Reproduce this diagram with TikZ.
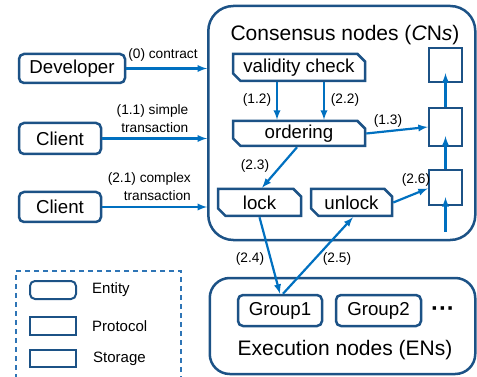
\documentclass[tikz,border=0pt]{standalone}
\usepackage{fontspec}
\setmainfont{Liberation Sans}
\usetikzlibrary{positioning,shapes.misc}
\definecolor{bordc}{RGB}{28,82,134}
\definecolor{arrc}{RGB}{0,112,192}
\definecolor{legc}{RGB}{46,117,182}
\begin{document}
\begin{tikzpicture}[x=10pt,y=-10pt,
    box/.style={draw=bordc,line width=2.5pt,inner sep=0pt,font=\fontsize{18.7}{21}\selectfont},
    entity/.style={box,rounded corners=5pt},
    protocol/.style={box,chamfered rectangle,chamfered rectangle corners={north east,south west},chamfered rectangle xsep=4pt},
    storage/.style={box},
    region/.style={draw=bordc,line width=2.5pt,inner sep=0pt},
    flow/.style={draw=arrc,line width=2.2pt,-latex},
    lab/.style={inner sep=0pt,font=\fontsize{13.7}{18}\selectfont},
    legtext/.style={inner sep=0pt,font=\fontsize{15}{18}\selectfont},
    title/.style={inner sep=0pt,font=\fontsize{21}{24}\selectfont}]
    \useasboundingbox (0,0) rectangle (47.7,37.7);
    \node[region,rounded corners=25pt,minimum width=267pt,minimum height=234pt] (cn) at (34.18,12.3) {};
    \node[region,rounded corners=20pt,minimum width=265.5pt,minimum height=96pt] (en) at (34.25,32.6) {};
    \node[title] (cntitle) at (34.5,3.5) {Consensus nodes (\textit{C}N\textit{s})};
    \node[title] (entitle) at (34.5,35.0) {Execution nodes (ENs)};
    \node[draw=legc,line width=1.3pt,dash pattern=on 5pt off 4pt,minimum width=165pt,minimum height=125pt] (legend) at (9.85,33.35) {};
    \node[entity,minimum width=106pt,minimum height=29pt] (dev) at (7.2,6.85) {Developer};
    \node[entity,minimum width=82pt,minimum height=31pt] (cl1) at (6.0,13.85) {Client};
    \node[entity,minimum width=82pt,minimum height=30pt] (cl2) at (6.0,20.7) {Client};
    \node[protocol,minimum width=132pt,minimum height=27pt] (vc) at (29.9,6.75) {validity check};
    \node[protocol,minimum width=132pt,minimum height=25pt] (ord) at (29.9,13.35) {ordering};
    \node[protocol,minimum width=83pt,minimum height=27pt] (lock) at (25.95,20.25) {lock};
    \node[protocol,minimum width=81pt,minimum height=27pt] (unlock) at (35.15,20.25) {unlock};
    \node[storage,minimum width=33pt,minimum height=34pt] (s1) at (44.55,6.5) {};
    \node[storage,minimum width=33pt,minimum height=38pt] (s2) at (44.55,12.7) {};
    \node[storage,minimum width=33pt,minimum height=35pt] (s3) at (44.55,18.75) {};
    \node[entity,minimum width=84pt,minimum height=31pt] (g1) at (28.0,31.05) {Group1};
    \node[entity,minimum width=85pt,minimum height=31pt] (g2) at (37.85,31.05) {Group2};
    \node[inner sep=0pt,font=\fontsize{24}{26}\selectfont\bfseries] (dots) at (44.3,31.2) {···};
    \coordinate (s3in) at (44.55,23.2);
    \draw[flow] (dev.east) -- (dev.east -| cn.west);
    \draw[flow] (cl1.east) -- (cl1.east -| cn.west);
    \draw[flow] (cl2.east) -- (cl2.east -| cn.west);
    \draw[flow] ([xshift=-22pt]vc.south) -- ([xshift=-22pt]ord.north);
    \draw[flow] ([xshift=25pt]vc.south) -- ([xshift=25pt]ord.north);
    \draw[flow] (ord.east) -- (s2.west);
    \draw[flow] ([xshift=-2pt]ord.south) -- ([xshift=2.5pt]lock.north);
    \draw[flow] (unlock.east) -- ([yshift=-1pt]s3.west);
    \draw[flow] (lock.south) -- (g1.north);
    \draw[flow] ([xshift=3pt]g1.north) -- ([xshift=1.5pt]unlock.south);
    \draw[flow] (s3in) -- ([yshift=9pt]s3.south);
    \draw[flow] (s3.north) -- ([yshift=11pt]s2.south);
    \draw[flow] (s2.north) -- ([yshift=10pt]s1.south);
    \node[lab] (l0) at (16.3,5.5) {(0) contract};
    \node[lab,align=right,anchor=east] (l11) at (18.85,11.9) {(1.1) simple\\transaction};
    \node[lab,align=right,anchor=east] (l21) at (19.1,18.65) {(2.1) complex\\transaction};
    \node[lab] (l12) at (25.7,10.0) {(1.2)};
    \node[lab] (l22) at (34.5,10.0) {(2.2)};
    \node[lab] (l13) at (38.8,12.1) {(1.3)};
    \node[lab] (l23) at (25.5,16.6) {(2.3)};
    \node[lab] (l26) at (41.6,18.0) {(2.6)};
    \node[lab] (l24) at (25.0,25.9) {(2.4)};
    \node[lab] (l25) at (33.7,25.9) {(2.5)};
    \node[entity,line width=2pt,minimum width=46pt,minimum height=18pt] (legent) at (5.3,29.0) {};
    \node[protocol,line width=2pt,minimum width=46pt,minimum height=18pt] (legprot) at (5.3,32.6) {};
    \node[storage,line width=2pt,minimum width=46pt,minimum height=17pt] (legstor) at (5.3,35.85) {};
    \node[legtext,right=15pt of legent] (legentt) {Entity};
    \node[legtext,right=15pt of legprot] (legprott) {Protocol};
    \node[legtext,right=16pt of legstor] (legstort) {Storage};
\end{tikzpicture}
\end{document}
